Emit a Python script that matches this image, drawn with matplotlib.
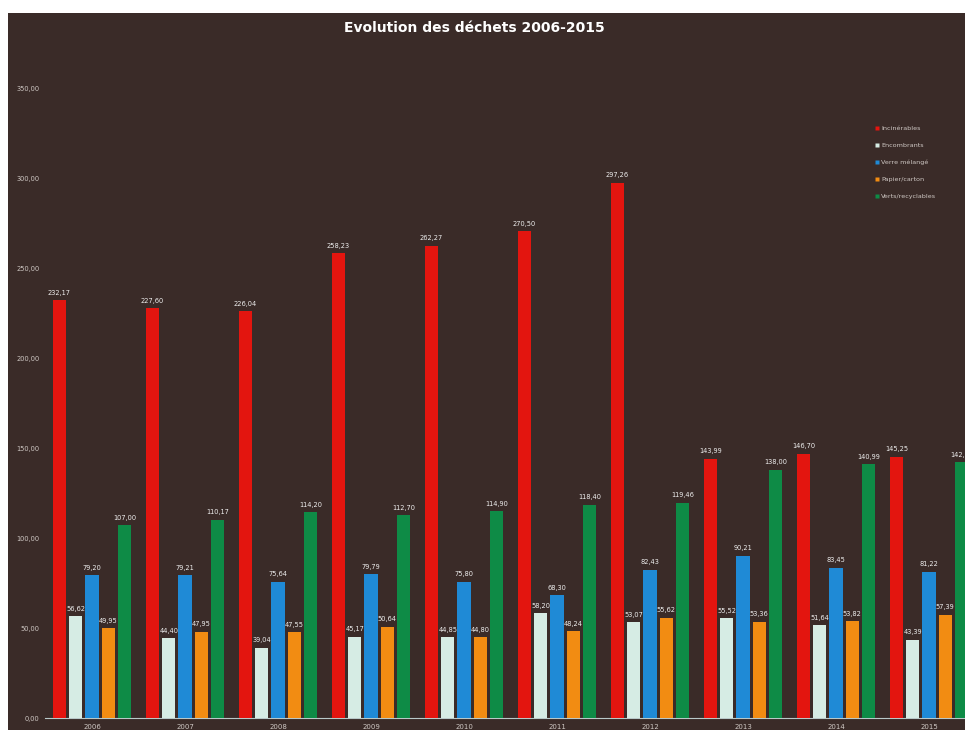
import matplotlib
matplotlib.use("Agg")
import matplotlib.pyplot as plt
import numpy as np
from matplotlib.patches import Rectangle
from matplotlib.lines import Line2D

years = ["2006", "2007", "2008", "2009", "2010", "2011", "2012", "2013", "2014", "2015"]
series_names = ["Incinérables", "Encombrants", "Verre mélangé", "Papier/carton", "Verts/recyclables"]
incinerables = [232.17, 227.60, 226.04, 258.23, 262.27, 270.50, 297.26, 143.99, 146.70, 145.25]
encombrants = [56.62, 44.40, 39.04, 45.17, 44.85, 58.20, 53.07, 55.52, 51.64, 43.39]
verre = [79.20, 79.21, 75.64, 79.79, 75.80, 68.30, 82.43, 90.21, 83.45, 81.22]
papier = [49.95, 47.95, 47.55, 50.64, 44.80, 48.24, 55.62, 53.36, 53.82, 57.39]
verts = [107.00, 110.17, 114.20, 112.70, 114.90, 118.40, 119.46, 138.00, 140.99, 142.20]
yticks = [0, 50, 100, 150, 200, 250, 300, 350]

colors = ["#e3150f", "#d6ece4", "#1f8ad6", "#f28c12", "#0e8b46"]
bg = "#3a2b28"

W, H = 965, 730
fig = plt.figure(figsize=(W / 100, H / 100), dpi=100, facecolor="white")
fig.patches.append(Rectangle((8 / W, 0), 1 - 8 / W, (H - 13) / H,
                             transform=fig.transFigure, facecolor=bg, edgecolor="none", zorder=-5))

left_px, right_px = 45, 965
bottom_px, top_px = 718, 88
ax = fig.add_axes([left_px / W, (H - bottom_px) / H, (right_px - left_px) / W, (bottom_px - top_px) / H])
ax.set_facecolor("none")
ax.set_zorder(2)

data = [incinerables, encombrants, verre, papier, verts]
x = np.arange(len(years))
off = 0.175
bw = 0.14
for i, (vals, c) in enumerate(zip(data, colors)):
    pos = x + (i - 2) * off
    ax.bar(pos, vals, width=bw, color=c, edgecolor="none", zorder=3)
    for p, v in zip(pos, vals):
        ax.text(p, v + 2.5, f"{v:.2f}".replace(".", ","), ha="center", va="bottom",
                fontsize=4.8, color="#eeeeee", zorder=4, clip_on=False)

ax.set_ylim(0, 350)
ax.set_xlim(-(92 - left_px) / 93, (right_px - 92) / 93)
ax.set_yticks(yticks)
ax.set_yticklabels([f"{t:.2f}".replace(".", ",") for t in yticks], fontsize=4.8, color="#cfc8c4")
ax.set_xticks(x)
ax.set_xticklabels(years, fontsize=5, color="#cfc8c4")
ax.tick_params(length=0, pad=4)
for s in ["top", "right", "left"]:
    ax.spines[s].set_visible(False)
ax.spines["bottom"].set_color("#b9c9c9")
ax.spines["bottom"].set_linewidth(0.8)

fig.text(0.492, (H - 28) / H, "Evolution des déchets 2006-2015", ha="center", va="center",
         fontsize=10, fontweight="bold", color="white")

handles = [Line2D([0], [0], marker="s", linestyle="none", markersize=3.5,
                  markerfacecolor=c, markeredgecolor="none") for c in colors]
leg = fig.legend(handles, series_names, loc="upper left", bbox_to_anchor=(868 / W, (H - 120) / H),
                 frameon=False, fontsize=4.6, labelcolor="#cfc8c4", handletextpad=0.2,
                 labelspacing=1.8, handlelength=1.0)

fig.savefig("out.png", dpi=100, facecolor=fig.get_facecolor())
